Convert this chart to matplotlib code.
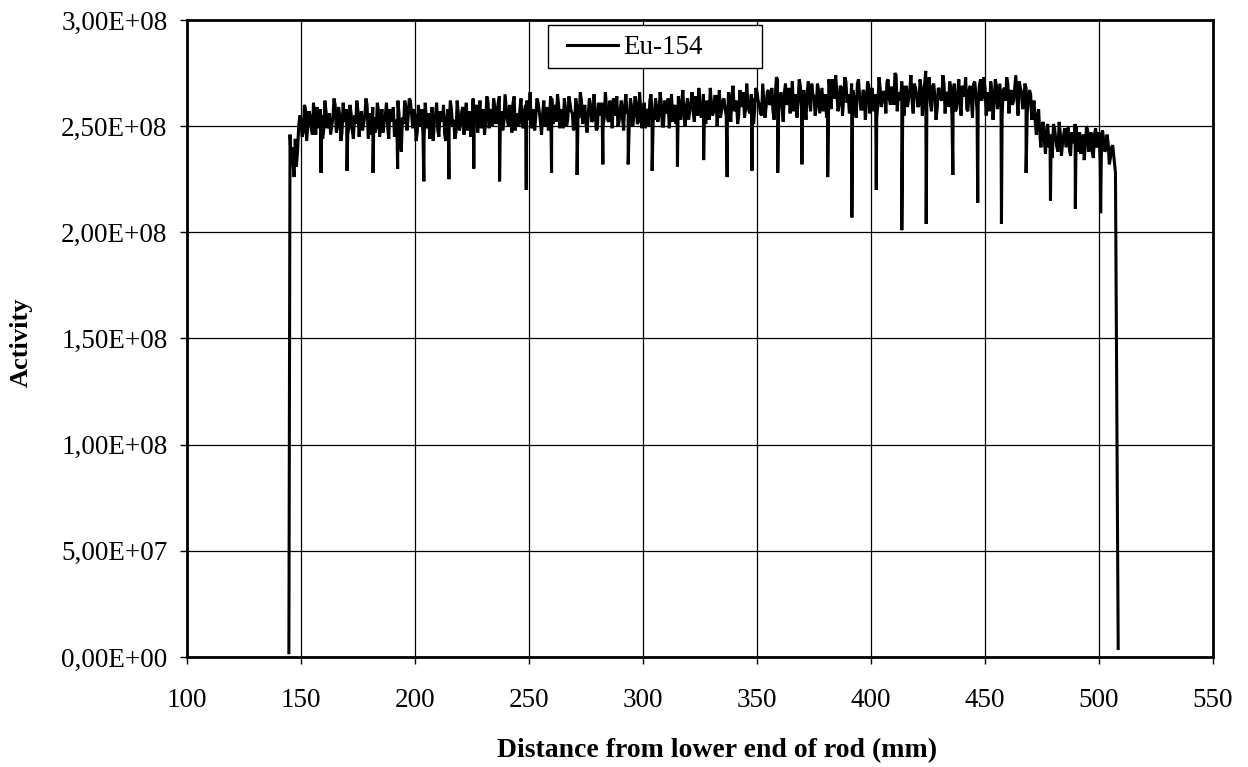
import numpy as np
import matplotlib
matplotlib.use("Agg")
import matplotlib.pyplot as plt
from matplotlib.ticker import FixedLocator
from matplotlib.patches import Rectangle

# ---------------- data (activity in units of 1e6) ----------------
series_name = "Eu-154"
start_mm = 146            # first sample on the whole-mm grid
# values at whole millimetres 146 ... 506
activity_e6 = [
    240, 226, 231, 250, 253, 247, 258, 250, 255, 246,   # 146-155
    252, 259, 249, 255, 248, 257, 251, 246, 254, 260,   # 156-165
    250, 255, 247, 253, 258, 249, 256, 244, 251, 257,   # 166-175
    253, 248, 255, 260, 250, 246, 254, 249, 257, 252,   # 176-185
    247, 255, 250, 258, 252, 245, 253, 256, 238, 251,   # 186-195
    259, 254, 262, 249, 255, 247, 252, 258, 244, 253,   # 196-205
    256, 250, 243, 255, 248, 257, 252, 246, 254, 249,   # 206-215
    258, 253, 247, 256, 251, 259, 254, 248, 257, 250,   # 216-225
    253, 260, 255, 249, 258, 252, 262, 256, 250, 259,   # 226-235
    254, 264, 257, 252, 259, 250, 256, 261, 248, 254,   # 236-245
    258, 251, 257, 262, 253, 249, 258, 255, 261, 252,   # 246-255
    256, 250, 259, 254, 263, 257, 252, 260, 255, 249,   # 256-265
    258, 253, 261, 256, 250, 259, 254, 262, 257, 251,   # 266-275
    256, 260, 253, 258, 249, 255, 261, 254, 259, 252,   # 276-285
    257, 263, 255, 250, 258, 254, 260, 256, 251, 259,   # 286-295
    255, 261, 252, 258, 254, 249, 257, 262, 256, 253,   # 296-305
    259, 255, 261, 250, 257, 263, 256, 252, 260, 255,   # 306-315
    258, 262, 254, 259, 253, 261, 257, 264, 255, 260,   # 316-325
    256, 262, 258, 253, 261, 257, 264, 259, 254, 262,   # 326-335
    258, 251, 260, 265, 257, 262, 255, 259, 266, 258,   # 336-345
    261, 256, 263, 258, 266, 260, 255, 262, 259, 267,   # 346-355
    261, 257, 264, 272, 262, 258, 266, 260, 268, 263,   # 356-365
    257, 265, 261, 269, 263, 258, 266, 262, 270, 264,   # 366-375
    259, 267, 262, 257, 265, 260, 268, 272, 263, 266,   # 376-385
    260, 268, 263, 271, 265, 259, 267, 262, 270, 264,   # 386-395
    258, 266, 261, 269, 263, 257, 265, 260, 268, 262,   # 396-405
    266, 271, 263, 268, 260, 274, 266, 262, 269, 264,   # 406-415
    259, 267, 262, 270, 265, 260, 268, 263, 276, 266,   # 416-425
    261, 269, 264, 258, 267, 262, 270, 265, 259, 268,   # 426-435
    263, 257, 266, 261, 269, 264, 258, 267, 262, 270,   # 436-445
    265, 260, 272, 264, 268, 262, 257, 266, 261, 269,   # 446-455
    264, 259, 267, 262, 270, 265, 260, 268, 263, 271,   # 456-465
    266, 261, 268, 263, 265, 258, 252, 255, 247, 250,   # 466-475
    243, 248, 240, 246, 251, 244, 238, 247, 242, 249,   # 476-485
    245, 239, 247, 242, 250, 244, 237, 246, 241, 248,   # 486-495
    243, 238, 246, 240, 247, 236, 244, 239, 242, 235,   # 496-505
    241,                                                # 506
]
# values at half millimetres 146.5 ... 505.5
activity_half_e6 = [
    232, 244, 238, 255, 245, 260, 243, 257, 249, 261,   # 146.5-155.5
    246, 253, 258, 244, 262, 249, 256, 250, 263, 247,
    259, 243, 261, 252, 246, 260, 248, 255, 262, 245,
    257, 251, 263, 244, 256, 259, 247, 261, 245, 258,
    252, 261, 244, 255, 259, 248, 262, 243, 254, 262,
    248, 263, 256, 258, 243, 260, 250, 246, 261, 249,
    244, 259, 252, 261, 245, 254, 260, 243, 258, 262,
    250, 244, 262, 248, 257, 246, 261, 255, 245, 263,
    258, 247, 262, 254, 246, 264, 249, 258, 263, 251,
    261, 255, 248, 265, 253, 260, 247, 264, 256, 250,
    263, 249, 260, 254, 266, 251, 248, 263, 257, 246,
    262, 255, 248, 264, 251, 260, 265, 249, 258, 263,
    250, 264, 257, 248, 263, 255, 266, 251, 260, 247,
    263, 252, 265, 248, 261, 257, 250, 266, 253, 262,
    249, 260, 264, 252, 262, 248, 265, 257, 263, 250,
    264, 251, 266, 249, 261, 258, 250, 265, 254, 263,
    252, 266, 250, 262, 256, 249, 265, 258, 251, 264,
    253, 267, 250, 263, 257, 266, 252, 260, 268, 254,
    265, 251, 262, 268, 255, 264, 250, 267, 258, 263,
    255, 266, 252, 269, 260, 251, 267, 262, 254, 270,
    257, 265, 251, 268, 262, 256, 270, 254, 266, 260,
    268, 253, 273, 258, 266, 252, 270, 262, 256, 271,
    262, 254, 272, 259, 267, 253, 271, 257, 265, 255,
    270, 256, 268, 263, 254, 272, 258, 266, 274, 257,
    269, 255, 273, 261, 256, 270, 264, 254, 272, 258,
    267, 253, 271, 256, 268, 262, 254, 273, 259, 266,
    256, 272, 260, 268, 275, 257, 264, 271, 255, 269,
    263, 274, 256, 268, 259, 272, 255, 270, 262, 273,
    257, 270, 253, 268, 263, 274, 256, 266, 271, 254,
    270, 258, 272, 255, 266, 273, 257, 269, 254, 271,
    257, 269, 262, 273, 255, 266, 271, 253, 272, 258,
    270, 255, 268, 273, 256, 267, 262, 274, 255, 268,
    258, 270, 255, 267, 253, 262, 246, 258, 240, 252,
    237, 251, 244, 235, 249, 240, 252, 236, 246, 240,
    250, 236, 244, 251, 238, 247, 242, 234, 250, 238,
    247, 235, 249, 241, 233, 248, 238, 246, 232, 240,   # 496.5-505.5
]

# rising edge (lower end of the fuel column)
lead_mm = [144.7, 145.2, 145.6]
lead_e6 = [2, 246, 236]
# falling edge (upper end)
tail_mm = [507.2, 508.4]
tail_e6 = [228, 4]

# narrow dips (pellet interfaces)
dip_mm = [158.8, 170.2, 181.6, 192.4, 203.9, 214.9, 225.8, 237.1, 248.8, 259.9,
          271.1, 282.4, 293.5, 304.0, 315.1, 326.6, 336.9, 347.8, 359.1, 369.7,
          381.0, 391.6, 402.3, 413.5, 424.2, 435.9, 446.8, 457.2, 468.0, 478.7,
          489.6, 500.7]
dip_e6 = [228, 229, 228, 230, 224, 225, 230, 224, 220, 228,
          227, 232, 232, 229, 231, 234, 226, 229, 228, 232,
          226, 207, 220, 201, 204, 227, 214, 204, 228, 215,
          211, 209]

x_ticks = [100, 150, 200, 250, 300, 350, 400, 450, 500, 550]
y_ticks = [0, 5e7, 1e8, 1.5e8, 2e8, 2.5e8, 3e8]
y_tick_labels = ["0,00E+00", "5,00E+07", "1,00E+08", "1,50E+08",
                 "2,00E+08", "2,50E+08", "3,00E+08"]
x_label = "Distance from lower end of rod (mm)"
y_label = "Activity"

# ---------------- assemble series ----------------
reg_mm = start_mm + np.arange(len(activity_e6))
half_mm = start_mm + 0.5 + np.arange(len(activity_half_e6))
xs = np.concatenate([lead_mm, reg_mm, half_mm, dip_mm, tail_mm])
vs = np.concatenate([lead_e6, activity_e6, activity_half_e6, dip_e6, tail_e6]) * 1e6
order = np.argsort(xs, kind="stable")
xs, vs = xs[order], vs[order]

# ---------------- plot ----------------
serif = ["Liberation Serif", "DejaVu Serif"]
plt.rcParams["font.family"] = serif

fig = plt.figure(figsize=(12.48, 7.67), dpi=100)
ax = fig.add_axes([0.1498, 0.1434, 0.8222, 0.8306])

ax.plot(xs, vs, color="black", lw=2.2, label=series_name, zorder=3,
        solid_joinstyle="miter")

ax.set_xlim(100, 550)
ax.set_ylim(0, 3e8)
ax.xaxis.set_major_locator(FixedLocator(x_ticks))
ax.yaxis.set_major_locator(FixedLocator(y_ticks))
ax.set_yticklabels(y_tick_labels)
ax.set_xticklabels([str(t) for t in x_ticks])

ax.grid(True, color="black", lw=0.9, zorder=1)
for s in ax.spines.values():
    s.set_linewidth(2.0)
    s.set_zorder(6)
ax.tick_params(axis="both", direction="out", length=5, width=1,
               labelsize=19.5, colors="black")
ax.tick_params(axis="x", pad=17)
ax.tick_params(axis="y", pad=9)

ax.set_xlabel(x_label, fontsize=20, fontweight="bold")
ax.xaxis.set_label_coords(0.517, -0.128)
ax.set_ylabel(y_label, fontsize=19, fontweight="bold")
ax.yaxis.set_label_coords(-0.150, 0.494)

# legend box (Excel style: wide white frame)
ax.add_patch(Rectangle((0.352, 0.925), 0.208, 0.067, transform=ax.transAxes,
                       facecolor="white", edgecolor="black", lw=1.0,
                       zorder=4.5))
leg = ax.legend(loc="center left", bbox_to_anchor=(0.370, 0.956),
                fontsize=19.5, frameon=False, handlelength=1.9,
                handletextpad=0.2, borderpad=0, borderaxespad=0)
leg.set_zorder(5)

fig.savefig("out.png", dpi=100, facecolor="white")
